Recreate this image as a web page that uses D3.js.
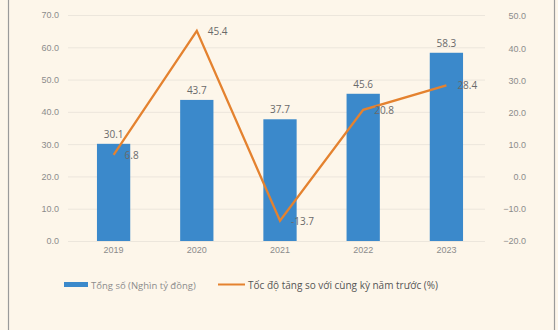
<!DOCTYPE html>
<html><head><meta charset="utf-8">
<script src="https://cdn.jsdelivr.net/npm/d3@7"></script>
<style>
html,body{margin:0;padding:0;background:#fdf6ea;}
svg{display:block;font-family:"Open Sans",Arial,sans-serif;}
</style></head>
<body>
<svg id="c" width="558" height="330"></svg>
<script>
const years = ["2019","2020","2021","2022","2023"];
const totals = [30.1, 43.7, 37.7, 45.6, 58.3];
const growth = [6.8, 45.4, -13.7, 20.8, 28.4];
const leftTicks = [0,10,20,30,40,50,60,70];
const rightTicks = [-20,-10,0,10,20,30,40,50];
const legendLabels = ["Tổng số (Nghìn tỷ đồng)", "Tốc độ tăng so với cùng kỳ năm trước (%)"];

const svg = d3.select("#c");
svg.append("rect").attr("width",558).attr("height",330).attr("fill","#fdf6ea");
svg.append("line").attr("x1",8.5).attr("x2",8.5).attr("y1",0).attr("y2",330).attr("stroke","#9a9a9a").attr("stroke-width",1.2);
svg.append("line").attr("x1",554.5).attr("x2",554.5).attr("y1",0).attr("y2",330).attr("stroke","#9a9a9a").attr("stroke-width",1.2);

const x = d3.scaleBand().domain(years).range([72,488]).paddingInner(0.6).paddingOuter(0.3);
const yL = d3.scaleLinear().domain([0,70]).range([241,15]);
const yR = d3.scaleLinear().domain([-20,50]).range([241,16]);

// gridlines
svg.append("g").selectAll("line").data(leftTicks).join("line")
  .attr("x1",68).attr("x2",485)
  .attr("y1",d=>yL(d)+0.5).attr("y2",d=>yL(d)+0.5)
  .attr("stroke","#ece6dc").attr("stroke-width",1);

// left axis
const gl = svg.append("g").attr("transform","translate(59,0)")
  .call(d3.axisLeft(yL).tickValues(leftTicks).tickFormat(d3.format(".1f")).tickSize(0).tickPadding(0));
gl.select(".domain").remove();
gl.selectAll("text").attr("fill","#8c8c8c").attr("font-size","9px");

// right axis
const gr = svg.append("g").attr("transform","translate(526,0)")
  .call(d3.axisLeft(yR).tickValues(rightTicks).tickFormat(d3.format(".1f")).tickSize(0).tickPadding(0));
gr.select(".domain").remove();
gr.selectAll("text").attr("fill","#8c8c8c").attr("font-size","9px");

// x axis
const gx = svg.append("g").attr("transform","translate(0,247)")
  .call(d3.axisBottom(x).tickSize(0).tickPadding(0));
gx.select(".domain").remove();
gx.selectAll("text").attr("fill","#8c8c8c").attr("font-size","9px").attr("dy","0.71em");

// bars
svg.append("g").selectAll("rect").data(years).join("rect")
  .attr("x",d=>x(d)).attr("width",x.bandwidth())
  .attr("y",(d,i)=>yL(totals[i])).attr("height",(d,i)=>yL(0)-yL(totals[i]))
  .attr("fill","#3b89cb");

// bar labels
svg.append("g").selectAll("text").data(years).join("text")
  .attr("x",d=>x(d)+x.bandwidth()/2).attr("y",(d,i)=>yL(totals[i])-6)
  .attr("text-anchor","middle").attr("font-size","10px").attr("fill","#6a6a6a")
  .text((d,i)=>totals[i].toFixed(1));

// line
const cx = d=>x(d)+x.bandwidth()/2;
const line = d3.line().x((d,i)=>cx(years[i])).y(d=>yR(d));
svg.append("path").datum(growth).attr("d",line)
  .attr("fill","none").attr("stroke","#e4822f").attr("stroke-width",2.3).attr("stroke-linejoin","miter");

// line labels
svg.append("g").selectAll("text").data(growth).join("text")
  .attr("x",(d,i)=>cx(years[i])+11).attr("y",d=>yR(d)+4)
  .attr("font-size","10px").attr("fill","#6a6a6a")
  .text(d=>d.toFixed(1));

// legend
const lg = svg.append("g");
lg.append("rect").attr("x",64).attr("y",282).attr("width",24).attr("height",5).attr("fill","#3b89cb");
lg.append("text").attr("x",91).attr("y",288.5).attr("font-size","9.5px").attr("fill","#8c8c8c").text(legendLabels[0]);
lg.append("line").attr("x1",218).attr("x2",245).attr("y1",284.5).attr("y2",284.5).attr("stroke","#e4822f").attr("stroke-width",2);
lg.append("text").attr("x",248).attr("y",288.5).attr("font-size","10px").attr("fill","#555").text(legendLabels[1]);
</script>
</body></html>
